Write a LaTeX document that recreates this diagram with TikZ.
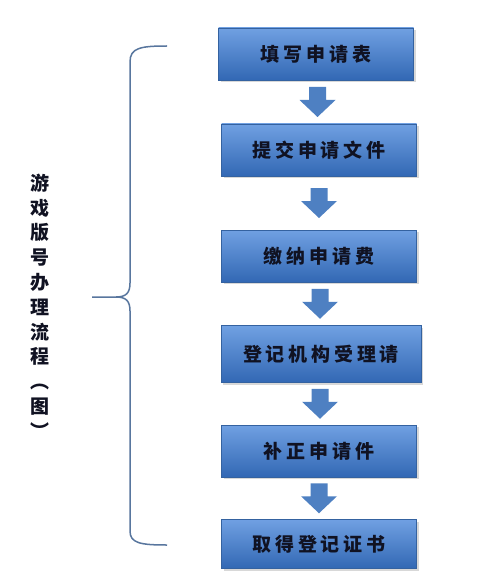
\documentclass[tikz,border=0pt]{standalone}
\usepackage{fontspec}
\newfontfamily\cjk{Noto Sans CJK SC}
\newfontfamily\cjkespaco[LetterSpace=20]{Noto Sans CJK SC}
\usetikzlibrary{calc,shadows}

\definecolor{meuazul1}{RGB}{112,160,226}
\definecolor{meuazul2}{RGB}{70,130,210}
\definecolor{meuazul3}{RGB}{50,104,180}
\definecolor{meuazul4}{RGB}{78,128,194}
\definecolor{meuborda}{RGB}{52,98,160}
\definecolor{meucinza}{RGB}{88,118,158}
\definecolor{meutexto}{RGB}{16,18,34}

\tikzset{
  etapa/.style={rectangle, draw=meuborda, line width=0.6pt,
    top color=meuazul1, middle color=meuazul2, bottom color=meuazul3,
    minimum width=195pt, minimum height=52pt, inner sep=0pt,
    drop shadow={shadow xshift=2pt, shadow yshift=-2pt, opacity=0.3},
    font=\cjkespaco\bfseries\fontsize{19}{22}\selectfont, text=meutexto}
}

% seta grossa entre duas etapas
\newcommand\seta[2]{%
  \path ($(#1.south)!0.5!(#2.north)$) coordinate (m);
  \fill[meuazul4] ($(m)+(-8.5,-15)$) -- ($(m)+(8.5,-15)$) -- ($(m)+(8.5,-2)$)
    -- ($(m)+(18,-2)$) -- ($(m)+(0,15)$) -- ($(m)+(-18,-2)$)
    -- ($(m)+(-8.5,-2)$) -- cycle;}

\begin{document}
\begin{tikzpicture}[x=1pt,y=-1pt]
\useasboundingbox[fill=white] (0,0) rectangle (500,580);

\node[etapa] (b1) at (316,54) {填写申请表};
\node[etapa] (b2) at (319,150) {提交申请文件};
\node[etapa] (b3) at (319,256) {缴纳申请费};
\node[etapa, minimum width=200pt, minimum height=57pt] (b4) at (321,354) {登记机构受理请};
\node[etapa] (b5) at (319,451) {补正申请件};
\node[etapa, minimum height=49pt] (b6) at (319,544) {取得登记证书};

\seta{b1}{b2}
\seta{b2}{b3}
\seta{b3}{b4}
\seta{b4}{b5}
\seta{b5}{b6}

% chave
\draw[meucinza, line width=1.5pt] (167,46) .. controls (140,46) and (130,48) .. (130,62)
  -- (130,283) .. controls (130,293) and (126,297) .. (116,297) -- (92,297);
\draw[meucinza, line width=1.5pt] (116,297) .. controls (126,297) and (130,301) .. (130,311)
  -- (130,531) .. controls (130,543) and (140,545) .. (167,545);

\node[font=\cjk\bfseries\fontsize{19}{24.8}\selectfont, align=center, text=meutexto] (titulo) at (40,306)
  {游\\戏\\版\\号\\办\\理\\流\\程\\︵\\图\\︶};
\end{tikzpicture}
\end{document}
